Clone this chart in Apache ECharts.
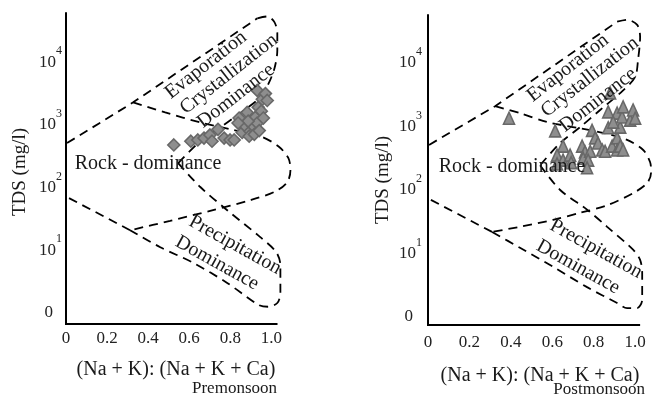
<!DOCTYPE html>
<html>
<head>
<meta charset="utf-8">
<script src="https://cdn.jsdelivr.net/npm/echarts@6/dist/echarts.min.js"></script>
<style>
  html, body { margin: 0; padding: 0; background: #fff; }
  #chart { width: 652px; height: 398px; }
</style>
</head>
<body>
<div id="chart"></div>
<script>
// ---------- data ----------
const xTickValues = [0, 0.2, 0.4, 0.6, 0.8, 1.0];
const yTickExponents = [0, 1, 2, 3, 4];          // log10(TDS mg/l); 0 is labelled "0"

// Premonsoon samples: (Na+K)/(Na+K+Ca) and log10 TDS
const preRatio  = [0.525,0.608,0.642,0.672,0.701,0.711,0.740,0.770,0.799,0.819,0.843,0.858,0.882,0.873,0.897,0.912,0.922,0.931,0.892,0.917,0.936,0.951,0.956,0.931,0.971,0.980,0.961,0.887,0.941,0.838];
const preLogTDS = [2.68,2.74,2.76,2.79,2.84,2.74,2.93,2.79,2.76,2.76,3.11,2.88,3.20,2.98,2.90,2.98,3.12,3.03,2.82,2.85,3.28,3.22,3.41,3.55,3.50,3.39,3.11,3.06,2.91,3.03];

// Postmonsoon samples
const postRatio  = [0.391,0.614,0.652,0.623,0.652,0.686,0.691,0.623,0.744,0.758,0.749,0.783,0.773,0.768,0.792,0.807,0.821,0.841,0.870,0.870,0.879,0.855,0.889,0.913,0.913,0.928,0.913,0.937,0.942,0.928,0.976,0.990,1.000,0.942,0.894];
const postLogTDS = [3.13,2.93,2.69,2.55,2.47,2.55,2.43,2.41,2.69,2.60,2.50,2.61,2.47,2.35,2.94,2.82,2.74,2.63,2.98,3.23,3.53,2.61,2.69,2.82,2.63,2.99,3.21,3.15,3.31,2.69,3.10,3.26,3.13,2.63,3.07];

// Gibbs boundary curves (ratio, log10 TDS) - premonsoon panel
const preEvapOuter   = [[0.005,2.71],[0.327,3.36],[0.932,4.70]];
const preEvapLoop    = [[0.932,4.70],[0.980,4.73],[1.015,4.64],[1.029,4.46],[1.029,4.19],[1.015,3.90],[0.985,3.65],[0.946,3.44],[0.849,3.19],[0.751,2.96],[0.654,2.74],[0.546,2.39]];
const prePrecipLoop  = [[0.546,2.39],[0.654,2.01],[0.785,1.64],[0.946,1.21],[1.024,0.97],[1.044,0.76],[1.044,0.32],[1.029,0.16],[0.985,0.10],[0.937,0.13],[0.785,0.48],[0.620,0.80],[0.459,1.05],[0.312,1.32]];
const prePrecipOuter = [[0.312,1.32],[0.005,1.85]];
const preRockLoop    = [[0.327,3.36],[0.483,3.20],[0.654,3.04],[0.815,2.92],[0.946,2.82],[1.034,2.66],[1.083,2.47],[1.093,2.28],[1.078,2.09],[1.020,1.94],[0.898,1.80],[0.702,1.63],[0.507,1.47],[0.312,1.32]];

// Gibbs boundary curves - postmonsoon panel
const postEvapOuter   = [[0.005,2.71],[0.324,3.32],[0.913,4.65]];
const postEvapLoop    = [[0.913,4.65],[0.961,4.68],[1.010,4.60],[1.024,4.41],[1.014,4.05],[1.000,3.78],[0.942,3.57],[0.831,3.26],[0.734,2.99],[0.638,2.74],[0.541,2.39]];
const postPrecipLoop  = [[0.541,2.39],[0.638,2.00],[0.768,1.69],[0.865,1.42],[0.990,1.06],[1.024,0.90],[1.034,0.69],[1.034,0.27],[1.010,0.14],[0.961,0.14],[0.913,0.22],[0.768,0.47],[0.604,0.79],[0.444,1.09],[0.309,1.34]];
const postPrecipOuter = [[0.309,1.34],[0.005,1.86]];
const postRockLoop    = [[0.324,3.32],[0.444,3.21],[0.575,3.07],[0.720,2.98],[0.845,2.90],[0.961,2.79],[1.039,2.63],[1.072,2.44],[1.077,2.28],[1.058,2.11],[0.990,1.95],[0.865,1.76],[0.734,1.64],[0.604,1.53],[0.444,1.42],[0.309,1.34]];

const xTitle = '(Na + K): (Na + K + Ca)';
const yTitle = 'TDS (mg/l)';
const seasonNames = ['Premonsoon', 'Postmonsoon'];

// ---------- chart ----------
const FONT = '"Liberation Serif", "Times New Roman", serif';
const chart = echarts.init(document.getElementById('chart'), null, { renderer: 'canvas' });

function zip(a, b) { return a.map((v, i) => [v, b[i]]); }

// the plotting area is wider than the drawn x-axis line, so the loops can reach past 1.0
const X_MAX = 1.12;
const xAxisEnd = [1.03, 1.024];
const yMin = [-0.175, -0.126];
const yMax = [4.785, 4.756];

function xAxisCfg(gi, margin) {
  return {
    type: 'value', gridIndex: gi, min: 0, max: X_MAX,
    axisLine: { show: false },
    axisTick: { show: false },
    splitLine: { show: false },
    axisLabel: {
      customValues: xTickValues, margin: margin,
      fontFamily: FONT, fontSize: 17, color: '#222',
      formatter: v => (v === 0 ? '0' : v.toFixed(1))
    }
  };
}
function yAxisCfg(gi, margin) {
  return {
    type: 'value', gridIndex: gi, min: yMin[gi], max: yMax[gi],
    axisLine: { show: true, onZero: false, lineStyle: { color: '#000', width: 2 } },
    axisTick: { show: false },
    splitLine: { show: false },
    axisLabel: {
      customValues: yTickExponents, margin: margin,
      formatter: v => (v === 0 ? '{z|0}' : '{b|10}{s|' + v + '}'),
      rich: {
        b: { fontFamily: FONT, fontSize: 17, color: '#222' },
        s: { fontFamily: FONT, fontSize: 12, color: '#222', padding: [0, 0, 22, 0] },
        z: { fontFamily: FONT, fontSize: 17, color: '#222', padding: [0, 9, 0, 0] }
      }
    }
  };
}

const dash = { color: '#000', width: 1.8, type: [9, 6] };
function boundary(data, gi, smooth) {
  return {
    type: 'line', xAxisIndex: gi, yAxisIndex: gi, data: data,
    symbol: 'none', smooth: smooth, clip: false, silent: true,
    lineStyle: dash, z: 2
  };
}
function samples(x, y, gi, symbol, size) {
  return {
    type: 'scatter', xAxisIndex: gi, yAxisIndex: gi, data: zip(x, y),
    symbol: symbol, symbolSize: size, z: 3,
    itemStyle: { color: '#8e8e8e', borderColor: '#686868', borderWidth: 1.6, opacity: 1 }
  };
}

function txt(x, y, text, size, rotDeg, align) {
  return {
    type: 'text', x: x, y: y, rotation: (rotDeg || 0) * Math.PI / 180, z: 100,
    style: {
      text: text, font: size + 'px ' + FONT, fill: '#1a1a1a',
      align: align || 'center', verticalAlign: 'middle'
    }
  };
}

const option = {
  backgroundColor: '#fff',
  animation: false,
  grid: [
    { left: 66, top: 13, width: 230, height: 311, outerBoundsMode: 'none' },
    { left: 428, top: 15, width: 232, height: 310, outerBoundsMode: 'none' }
  ],
  xAxis: [ xAxisCfg(0, 6), xAxisCfg(1, 9) ],
  yAxis: [ yAxisCfg(0, 4), yAxisCfg(1, 6) ],
  series: [
    boundary(preEvapOuter, 0, false),
    boundary(preEvapLoop, 0, 0.3),
    boundary(prePrecipLoop, 0, 0.3),
    boundary(prePrecipOuter, 0, false),
    boundary(preRockLoop, 0, 0.3),
    samples(preRatio, preLogTDS, 0, 'diamond', [12, 12]),
    boundary(postEvapOuter, 1, false),
    boundary(postEvapLoop, 1, 0.3),
    boundary(postPrecipLoop, 1, 0.3),
    boundary(postPrecipOuter, 1, false),
    boundary(postRockLoop, 1, 0.3),
    samples(postRatio, postLogTDS, 1, 'triangle', [11, 12])
  ]
};
chart.setOption(option);

// x-axis lines, from the axes' own scale
function axisLine(gi) {
  const p0 = chart.convertToPixel({ xAxisIndex: gi, yAxisIndex: gi }, [0, yMin[gi]]);
  const p1 = chart.convertToPixel({ xAxisIndex: gi, yAxisIndex: gi }, [xAxisEnd[gi], yMin[gi]]);
  return {
    type: 'line', z: 50,
    shape: { x1: p0[0] - 1, y1: p0[1], x2: p1[0], y2: p1[1] },
    style: { stroke: '#000', lineWidth: 2 }
  };
}

chart.setOption({
  graphic: [
    axisLine(0), axisLine(1),
    // premonsoon panel
    txt(20, 172, yTitle, 19, 90),
    txt(206, 65, 'Evaporation', 20, 38),
    txt(229, 74, 'Crystallization', 20, 38),
    txt(236, 96, 'Dominance', 20, 38),
    txt(148, 164, 'Rock - dominance', 20, 0),
    txt(235, 245, 'Precipitation', 20, -29),
    txt(217, 263, 'Dominance', 20, -29),
    txt(176, 370, xTitle, 20, 0),
    txt(277, 389, seasonNames[0], 17, 0, 'right'),
    // postmonsoon panel
    txt(383, 180, yTitle, 19, 90),
    txt(568, 68, 'Evaporation', 20, 38),
    txt(590, 77, 'Crystallization', 20, 38),
    txt(598, 100, 'Dominance', 20, 38),
    txt(512, 167, 'Rock - dominance', 20, 0),
    txt(596, 249, 'Precipitation', 20, -29),
    txt(578, 267, 'Dominance', 20, -29),
    txt(540, 376, xTitle, 20, 0),
    txt(645, 390, seasonNames[1], 17, 0, 'right')
  ]
});
</script>
</body>
</html>
